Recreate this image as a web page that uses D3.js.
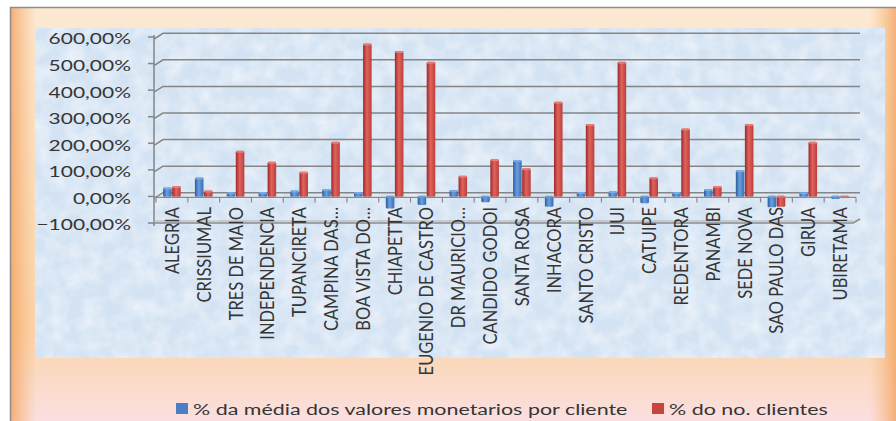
<!DOCTYPE html>
<html>
<head>
<meta charset="utf-8">
<script src="https://cdn.jsdelivr.net/npm/d3@7"></script>
<style>
  html, body { margin: 0; padding: 0; background: #fff; }
  svg text { font-family: Lato, "Open Sans", sans-serif; fill: #353535; }
</style>
</head>
<body>
<svg id="chart" width="896" height="421"></svg>
<script>
const categories = ["ALEGRIA", "CRISSIUMAL", "TRES DE MAIO", "INDEPENDENCIA", "TUPANCIRETA",
    "CAMPINA DAS…", "BOA VISTA DO…", "CHIAPETTA", "EUGENIO DE CASTRO", "DR MAURICIO…",
    "CANDIDO GODOI", "SANTA ROSA", "INHACORA", "SANTO CRISTO", "IJUI", "CATUIPE",
    "REDENTORA", "PANAMBI", "SEDE NOVA", "SAO PAULO DAS", "GIRUA", "UBIRETAMA"];

// % da média dos valores monetarios por cliente
const mediaValores = [20, 57, 2, 3, 8, 14, 3, -44, -31, 10, -21, 123, -38, 3, 6, -25,
    3, 14, 85, -40, 2, -9];
// % do no. clientes
const noClientes = [25, 8, 158, 117, 79, 192, 562, 533, 493, 64, 126, 92, 342, 259, 493, 58,
    242, 25, 259, -38, 192, -3];

const seriesNames = ["% da média dos valores monetarios por cliente", "% do no. clientes"];
const yTicks = [-100, 0, 100, 200, 300, 400, 500, 600];

const svg = d3.select("#chart");
const defs = svg.append("defs");

// background gradients
const bgV = defs.append("linearGradient").attr("id", "bgV").attr("x1", 0).attr("y1", 0).attr("x2", 0).attr("y2", 1);
bgV.append("stop").attr("offset", "0%").attr("stop-color", "#fce9d2");
bgV.append("stop").attr("offset", "78%").attr("stop-color", "#fad5ab");
bgV.append("stop").attr("offset", "100%").attr("stop-color", "#fbe0e4");

const bgH = defs.append("linearGradient").attr("id", "bgH").attr("x1", 0).attr("y1", 0).attr("x2", 1).attr("y2", 0);
bgH.append("stop").attr("offset", "0%").attr("stop-color", "#f4a260").attr("stop-opacity", 0.85);
bgH.append("stop").attr("offset", "3%").attr("stop-color", "#f7b97a").attr("stop-opacity", 0);
bgH.append("stop").attr("offset", "97%").attr("stop-color", "#f7b97a").attr("stop-opacity", 0);
bgH.append("stop").attr("offset", "100%").attr("stop-color", "#f4a260").attr("stop-opacity", 0.8);

// paper texture for the plot area
const tex = defs.append("filter").attr("id", "tex").attr("x", 0).attr("y", 0).attr("width", 1).attr("height", 1);
tex.append("feTurbulence").attr("type", "fractalNoise").attr("baseFrequency", 0.06)
    .attr("numOctaves", 3).attr("seed", 4).attr("result", "n");
tex.append("feColorMatrix").attr("in", "n").attr("type", "matrix")
    .attr("values", "0 0 0 0 1  0 0 0 0 1  0 0 0 0 1  1.6 0 0 0 -0.55");

function barGrad(id, dark, light, mid) {
    const g = defs.append("linearGradient").attr("id", id).attr("x1", 0).attr("y1", 0).attr("x2", 1).attr("y2", 0);
    g.append("stop").attr("offset", "0%").attr("stop-color", dark);
    g.append("stop").attr("offset", "45%").attr("stop-color", light);
    g.append("stop").attr("offset", "100%").attr("stop-color", mid);
}
barGrad("gBlue", "#2d5c9c", "#6a9fdf", "#3a6db2");
barGrad("gRed", "#9a2a28", "#e3625d", "#b8403c");

// frame
svg.append("rect").attr("x", 10).attr("y", 7).attr("width", 900).attr("height", 420).attr("fill", "url(#bgV)");
svg.append("rect").attr("x", 10).attr("y", 7).attr("width", 886).attr("height", 420).attr("fill", "url(#bgH)");
svg.append("path").attr("d", "M10.5,430V7.5H900").attr("fill", "none").attr("stroke", "#8c8c8c").attr("stroke-width", 1.5);

// plot area
svg.append("rect").attr("x", 35).attr("y", 28).attr("width", 850).attr("height", 330).attr("fill", "#d4e3f3");
svg.append("rect").attr("x", 35).attr("y", 28).attr("width", 850).attr("height", 330).attr("filter", "url(#tex)").attr("opacity", 0.6);

// scales
const x = d3.scaleBand().domain(categories).range([156, 856]).paddingInner(0.43).paddingOuter(0.215);
const xs = d3.scaleBand().domain([0, 1]).range([0, x.bandwidth()]);
const y = d3.scaleLinear().domain([-100, 600]).range([219.3, 33.3]);     // back wall
const yLab = d3.scaleLinear().domain([-100, 600]).range([225, 39]);       // front edge

const grid = svg.append("g").attr("stroke", "#858585").attr("stroke-width", 1.5).attr("fill", "none");
grid.selectAll("path").data(yTicks.filter(t => t >= 0)).join("path")
    .attr("d", d => `M154,${yLab(d)}L163,${y(d)}H860`);

// y axis
svg.append("line").attr("x1", 154).attr("x2", 154).attr("y1", yLab(600) - 4).attr("y2", yLab(-100) + 1)
    .attr("stroke", "#858585").attr("stroke-width", 1.5);
svg.append("g").selectAll("line").data(yTicks).join("line")
    .attr("x1", 148).attr("x2", 154).attr("y1", d => yLab(d) - 2).attr("y2", d => yLab(d) - 2)
    .attr("stroke", "#858585").attr("stroke-width", 1.5);
const fmt = d => d3.format(".2f")(d).replace(".", ",") + "%";
svg.append("g").selectAll("text").data(yTicks).join("text")
    .attr("transform", d => `translate(131,${yLab(d)}) scale(1.4,1)`)
    .attr("text-anchor", "end").attr("dy", "0.36em").attr("font-size", 15)
    .text(fmt);

// floor front edge
svg.append("path").attr("d", `M154,${yLab(-100) - 2}H853L860,${yLab(-100) - 6}`)
    .attr("fill", "none").attr("stroke", "#8a8a8a").attr("stroke-width", 1.5);
svg.append("path").attr("d", `M154,${yLab(-100) - 4}H853`)
    .attr("fill", "none").attr("stroke", "#b0b0b0").attr("stroke-width", 1);

// bars
const rows = categories.map((c, i) => [
    { cat: c, s: 0, v: mediaValores[i] },
    { cat: c, s: 1, v: noClientes[i] }
]).flat();
const bars = svg.append("g").selectAll("g").data(rows).join("g")
    .attr("transform", d => `translate(${x(d.cat) + xs(d.s)},0)`);
const bw = xs.bandwidth() - 0.5;
bars.append("rect")
    .attr("x", 0.25).attr("width", bw)
    .attr("y", d => d.v >= 0 ? y(d.v) : y(0) + 3)
    .attr("height", d => d.v >= 0 ? y(0) + 4 - y(d.v) : y(d.v) - y(0) + 1)
    .attr("rx", 1.5)
    .attr("fill", d => d.s === 0 ? "url(#gBlue)" : "url(#gRed)");
bars.append("rect")
    .attr("x", 0.25).attr("width", bw).attr("height", 2)
    .attr("y", d => d.v >= 0 ? y(d.v) : y(0) + 3)
    .attr("rx", 1)
    .attr("fill", d => d.s === 0 ? "#7fb0ea" : "#ee8580").attr("opacity", 0.8);

// category axis (front, at zero)
const xAxisY = yLab(0) - 1;
svg.append("line").attr("x1", 154).attr("x2", 856).attr("y1", xAxisY).attr("y2", xAxisY)
    .attr("stroke", "#8a8a8a").attr("stroke-width", 1.2);
const bounds = categories.map(c => x(c) - x.step() * x.paddingInner() / 2).concat([856 - x.step() * x.paddingOuter() + x.step() * x.paddingInner() / 2]);
svg.append("g").selectAll("line").data(bounds).join("line")
    .attr("x1", d => d).attr("x2", d => d).attr("y1", xAxisY).attr("y2", xAxisY + 5)
    .attr("stroke", "#8a8a8a").attr("stroke-width", 1.2);

// category labels
svg.append("g").selectAll("text").data(categories).join("text")
    .attr("transform", d => `translate(${x(d) + x.bandwidth() / 2},207) scale(1.18,1) rotate(-90)`)
    .attr("text-anchor", "end").attr("dy", "0.36em").attr("font-size", 16.5)
    .text(d => d);

// legend
const legend = svg.append("g");
const legX = [176, 652];
const legColors = ["#4a7fc4", "#c8443f"];
seriesNames.forEach((name, i) => {
    legend.append("rect").attr("x", legX[i]).attr("y", 403).attr("width", 12).attr("height", 11)
        .attr("fill", legColors[i]);
    legend.append("text")
        .attr("transform", `translate(${legX[i] + 17},415) scale(1.43,1)`)
        .attr("font-size", 15).text(name);
});
</script>
</body>
</html>
